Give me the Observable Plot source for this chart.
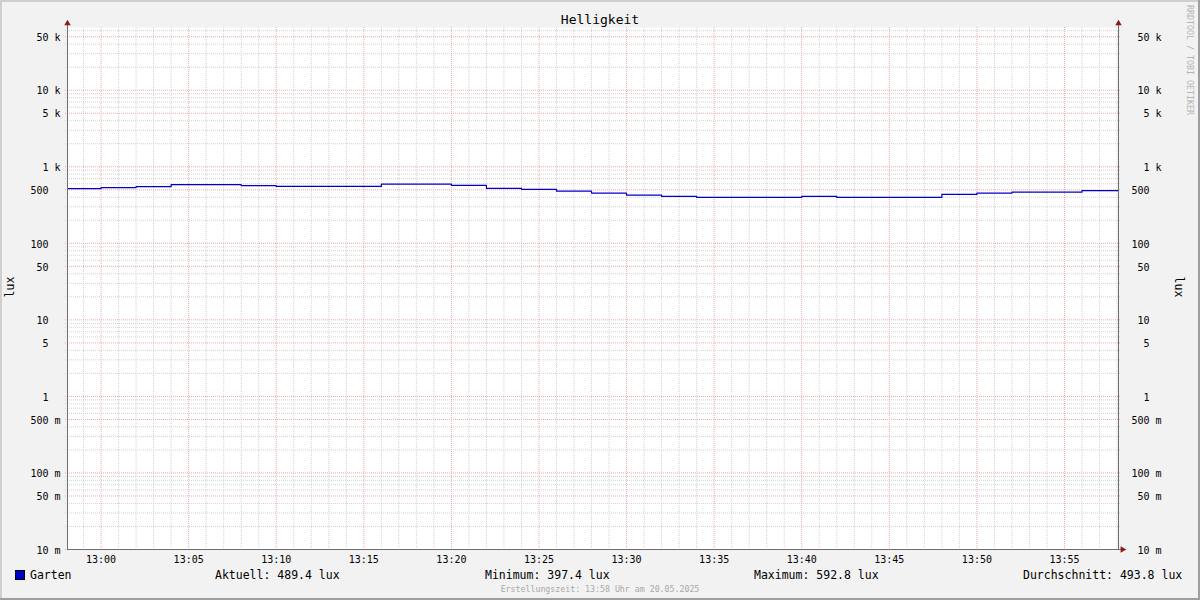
<!DOCTYPE html>
<html><head><meta charset="utf-8">
<script src="https://cdn.jsdelivr.net/npm/d3@7"></script>
<script src="https://cdn.jsdelivr.net/npm/@observablehq/plot@0.6"></script>
<style>
html,body{margin:0;padding:0;background:#f2f2f2;}
#wrap{position:relative;width:1200px;height:600px;background:#f2f2f2;overflow:hidden;font-family:"DejaVu Sans Mono",monospace;color:#000;}
.a{position:absolute;white-space:pre;}
#chart{position:absolute;left:0;top:0;}
</style></head><body>
<div id="wrap">
  <div id="chart"></div>
  <div class="a" style="left:0;top:0;width:1200px;height:2px;background:#cfcfcf"></div>
  <div class="a" style="left:0;top:0;width:2px;height:600px;background:#cfcfcf"></div>
  <div class="a" style="left:0;top:598px;width:1200px;height:2px;background:#9e9e9e"></div>
  <div class="a" style="left:1198px;top:0;width:2px;height:600px;background:#9e9e9e"></div>
  <div id="title" class="a" style="left:0;width:1200px;top:12px;line-height:16px;font-size:13px;text-align:center"></div>
  <div id="ylabL" class="a" style="left:10px;top:287px;font-size:11.5px;line-height:14px;transform:translate(-50%,-50%) rotate(-90deg)"></div>
  <div id="ylabR" class="a" style="left:1179px;top:287px;font-size:11.5px;line-height:14px;transform:translate(-50%,-50%) rotate(90deg)"></div>
  <div id="wm" class="a" style="left:1190px;top:60px;font-size:8.3px;line-height:10px;color:#b4b4b4;transform:translate(-50%,-50%) rotate(90deg)"></div>
  <div class="a" style="left:15px;top:570px;width:8px;height:8px;background:#0000cc;border:1px solid #000"></div>
  <div id="legend"></div>
  <div id="footer" class="a" style="left:0;width:1200px;top:584px;line-height:10px;font-size:8.25px;color:#a8a8a8;text-align:center"></div>
</div>
<script>
// ---- data ----
const titleText = "Helligkeit";
const unitLabel = "lux";
const seriesName = "Garten";
const times = ["12:58","13:00","13:02","13:04","13:06","13:08","13:10","13:12","13:14","13:16",
               "13:18","13:20","13:22","13:24","13:26","13:28","13:30","13:32","13:34","13:36",
               "13:38","13:40","13:42","13:44","13:46","13:48","13:50","13:52","13:54","13:56"];
const values = [519, 535, 551, 585, 585, 568, 553, 553, 553, 592.8,
                592.8, 570, 521, 506, 480, 453, 426, 410, 397.4, 397.4,
                397.4, 410, 397.4, 397.4, 397.4, 435, 453, 466, 466, 489.4];
const rangeStart = "12:58:05";
const rangeEnd = "13:58:05";
const yTicks = [0.01, 0.05, 0.1, 0.5, 1, 5, 10, 50, 100, 500, 1000, 5000, 10000, 50000];
const yTickLabels = ["10 m","50 m","100 m","500 m","1","5","10","50","100","500","1 k","5 k","10 k","50 k"];
const yLimits = [0.01, 66000];
const legendLabels = ["Aktuell: 489.4 lux","Minimum: 397.4 lux","Maximum: 592.8 lux","Durchschnitt: 493.8 lux"];
const footerText = "Erstellungszeit: 13:58 Uhr am 20.05.2025";
const watermark = "RRDTOOL / TOBI OETIKER";

// ---- build ----
const toDate = s => { const [h,m,sec] = s.split(":").map(Number); return new Date(2025,4,20,h,m,sec||0); };
const xStart = toDate(rangeStart), xEnd = toDate(rangeEnd);
const data = times.map((t,i) => ({t: toDate(t), v: values[i]}));
data.push({t: xEnd, v: values[values.length-1]});

const minorY = [];
for (let e = -2; e <= 4; e++) for (const k of [2,3,4,6,7,8,9]) {
  const v = k * Math.pow(10, e);
  if (v > yLimits[0] && v < yLimits[1]) minorY.push(v);
}
const allMin = d3.timeMinute.range(xStart, xEnd);
const majorX = allMin.filter(d => d.getMinutes() % 5 === 0);
const minorX = allMin.filter(d => d.getMinutes() % 5 !== 0);
const yLab = yTicks.map((v, i) => {
  const l = yTickLabels[i];
  return {v, label: l.includes(" ") ? l.replace(" ", "\u00a0") : l + "\u00a0\u00a0"};
});
const axisCol = "#6e6e6e", arrowCol = "#8b1a1a";
const minorCol = "#d2d2d2", majorCol = "#f0a8a8";

const chart = Plot.plot({
  width: 1200, height: 600,
  marginLeft: 67, marginRight: 82, marginTop: 27, marginBottom: 51,
  style: {background: "transparent", fontFamily: "'DejaVu Sans Mono', monospace", fontSize: "10px", color: "#000", overflow: "visible"},
  x: {type: "time", domain: [xStart, xEnd], axis: null},
  y: {type: "log", domain: yLimits, axis: null},
  marks: [
    Plot.frame({fill: "#ffffff", stroke: null}),
    Plot.ruleY(minorY, {stroke: minorCol, strokeDasharray: "1,1", insetLeft: -2, insetRight: -2}),
    Plot.ruleX(minorX, {stroke: minorCol, strokeDasharray: "1,1", insetBottom: -2}),
    Plot.ruleY(yTicks, {stroke: majorCol, strokeDasharray: "1,1", insetLeft: -2, insetRight: -2}),
    Plot.ruleX(majorX, {stroke: majorCol, strokeDasharray: "1,1", insetBottom: -2}),
    Plot.line(data, {x: "t", y: "v", curve: "step-after", stroke: "#0000cc", strokeWidth: 1.2, clip: true}),
    Plot.ruleX([xStart], {stroke: axisCol, insetTop: -4}),
    Plot.ruleX([xEnd], {stroke: axisCol, insetTop: -4}),
    Plot.ruleY([yLimits[0]], {stroke: axisCol, insetRight: -4}),
    Plot.dot([{t: xStart, v: yLimits[1]}], {x: "t", y: "v", symbol: "triangle", r: 2.4, fill: arrowCol, stroke: null, dy: -4}),
    Plot.dot([{t: xEnd, v: yLimits[1]}], {x: "t", y: "v", symbol: "triangle", r: 2.4, fill: arrowCol, stroke: null, dy: -4}),
    Plot.dot([{t: xEnd, v: yLimits[0]}], {x: "t", y: "v", symbol: "triangle", r: 2.4, fill: arrowCol, stroke: null, dx: 4, rotate: 90}),
    Plot.text(yLab, {y: "v", text: "label", frameAnchor: "left", textAnchor: "end", dx: -7, dy: 1, fill: "#000"}),
    Plot.text(yLab, {y: "v", text: "label", frameAnchor: "right", textAnchor: "end", dx: 43, dy: 1, fill: "#000"}),
    Plot.axisX({ticks: majorX, tickFormat: d3.timeFormat("%H:%M"), tickSize: 0, tickPadding: 6, label: null})
  ]
});
document.getElementById("chart").appendChild(chart);

document.getElementById("title").textContent = titleText;
document.getElementById("ylabL").textContent = unitLabel;
document.getElementById("ylabR").textContent = unitLabel;
document.getElementById("wm").textContent = watermark;
document.getElementById("footer").textContent = footerText;
const legendX = [30, 215, 485, 754, 1023];
const leg = document.getElementById("legend");
[seriesName, ...legendLabels].forEach((s, i) => {
  const d = document.createElement("div");
  d.className = "a";
  d.style.cssText = `left:${legendX[i]}px;top:568px;line-height:14px;font-size:11.5px;`;
  d.textContent = s;
  leg.appendChild(d);
});
</script>
</body></html>
